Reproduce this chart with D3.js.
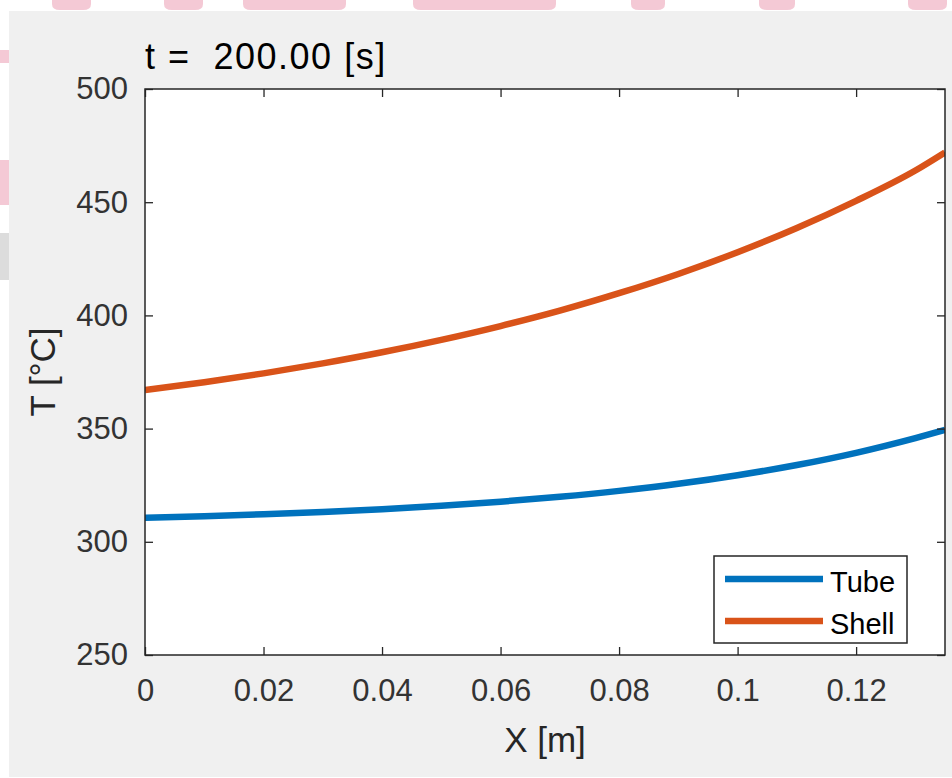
<!DOCTYPE html>
<html>
<head>
<meta charset="utf-8">
<script src="https://cdn.jsdelivr.net/npm/d3@7"></script>
<style>
  html, body { margin: 0; padding: 0; background: #ffffff; }
  svg { display: block; }
  text { font-family: "Liberation Sans", Arial, Helvetica, sans-serif; }
</style>
</head>
<body>
<svg id="chart" width="952" height="778"></svg>
<script>
// ---- data ----
const xPositions = [0, 0.01, 0.02, 0.03, 0.04, 0.05, 0.06, 0.07, 0.08, 0.09, 0.10, 0.11, 0.12, 0.13, 0.135];
const tubeTemps  = [310.6, 311.3, 312.2, 313.2, 314.4, 315.9, 317.7, 319.9, 322.5, 325.6, 329.4, 333.9, 339.3, 345.8, 349.4];
const shellTemps = [367.0, 370.5, 374.4, 378.8, 383.7, 389.2, 395.3, 402.1, 409.8, 418.3, 427.9, 438.6, 450.6, 464.0, 472.0];
const seriesNames = ["Tube", "Shell"];
const xTickValues = [0, 0.02, 0.04, 0.06, 0.08, 0.1, 0.12];
const xTickLabels = ["0", "0.02", "0.04", "0.06", "0.08", "0.1", "0.12"];
const yTickValues = [250, 300, 350, 400, 450, 500];
const yTickLabels = ["250", "300", "350", "400", "450", "500"];
const titleText = "t =  200.00 [s]";
const xLabelText = "X [m]";
const yLabelText = "T [°C]";

// ---- layout ----
const svg = d3.select("#chart");
const plot = { left: 145, right: 945, top: 89, bottom: 655 };
const colors = { Tube: "#0072BD", Shell: "#D95319" };
const axisColor = "#262626";

// background decoration (figure panel + faint watermark fragments)
svg.append("rect").attr("x", 9).attr("y", 11).attr("width", 943).attr("height", 766).attr("fill", "#f0f0f0");
const wm = svg.append("g").attr("fill", "#f4c9d5");
[[52, 39], [164, 39], [243, 103], [413, 143], [631, 34], [759, 36], [908, 39]].forEach(([x, w]) => {
  wm.append("path").attr("d", `M${x},0 H${x + w} V4 Q${x + w},10 ${x + w - 8},10 H${x + 8} Q${x},10 ${x},4 Z`);
});
wm.append("rect").attr("x", 0).attr("y", 50).attr("width", 9).attr("height", 13);
wm.append("rect").attr("x", 0).attr("y", 160).attr("width", 9).attr("height", 45);
svg.append("rect").attr("x", 0).attr("y", 233).attr("width", 9).attr("height", 47).attr("fill", "#dcdcdc");

// plot area
svg.append("rect")
  .attr("x", plot.left).attr("y", plot.top)
  .attr("width", plot.right - plot.left).attr("height", plot.bottom - plot.top)
  .attr("fill", "#ffffff");

const x = d3.scaleLinear().domain([0, 0.135]).range([plot.left, plot.right]);
const y = d3.scaleLinear().domain([250, 500]).range([plot.bottom, plot.top]);

// lines
const data = {
  Tube: xPositions.map((v, i) => [v, tubeTemps[i]]),
  Shell: xPositions.map((v, i) => [v, shellTemps[i]])
};
const line = d3.line().x(d => x(d[0])).y(d => y(d[1])).curve(d3.curveMonotoneX);
svg.append("clipPath").attr("id", "clip").append("rect")
  .attr("x", plot.left).attr("y", plot.top)
  .attr("width", plot.right - plot.left).attr("height", plot.bottom - plot.top);
seriesNames.forEach(name => {
  svg.append("path").datum(data[name])
    .attr("clip-path", "url(#clip)")
    .attr("d", line)
    .attr("fill", "none")
    .attr("stroke", colors[name])
    .attr("stroke-width", 6.5)
    .attr("stroke-linejoin", "round");
});

// axes (ticks inward, box on all sides)
const tickLen = 8;
const fmtX = d => xTickLabels[xTickValues.indexOf(d)];
const fmtY = d => yTickLabels[yTickValues.indexOf(d)];

const gx = svg.append("g").attr("transform", `translate(0,${plot.bottom})`)
  .call(d3.axisBottom(x).tickValues(xTickValues).tickFormat(fmtX).tickSizeInner(-tickLen).tickSizeOuter(0).tickPadding(24));
const gxTop = svg.append("g").attr("transform", `translate(0,${plot.top})`)
  .call(d3.axisTop(x).tickValues(xTickValues).tickFormat("").tickSizeInner(-tickLen).tickSizeOuter(0));
const gy = svg.append("g").attr("transform", `translate(${plot.left},0)`)
  .call(d3.axisLeft(y).tickValues(yTickValues).tickFormat(fmtY).tickSizeInner(-tickLen).tickSizeOuter(0).tickPadding(17));
const gyRight = svg.append("g").attr("transform", `translate(${plot.right},0)`)
  .call(d3.axisRight(y).tickValues(yTickValues).tickFormat("").tickSizeInner(-tickLen).tickSizeOuter(0));

[gx, gxTop, gy, gyRight].forEach(g => {
  g.select(".domain").remove();
  g.selectAll(".tick line").attr("stroke", axisColor).attr("stroke-width", 1.3);
  g.selectAll(".tick text").attr("fill", "#333333").style("font-size", "31px");
});
gx.selectAll(".tick text").attr("dy", "0.71em");

// box border
svg.append("rect")
  .attr("x", plot.left).attr("y", plot.top)
  .attr("width", plot.right - plot.left).attr("height", plot.bottom - plot.top)
  .attr("fill", "none").attr("stroke", axisColor).attr("stroke-width", 1.5);

// title & labels
svg.append("text").attr("x", plot.left).attr("y", 69)
  .attr("fill", "#000").style("font-size", "36px").style("letter-spacing", "1.5px")
  .attr("xml:space", "preserve").text(titleText);
svg.append("text").attr("x", (plot.left + plot.right) / 2).attr("y", 752)
  .attr("text-anchor", "middle").attr("fill", axisColor).style("font-size", "35px")
  .text(xLabelText);
svg.append("text")
  .attr("transform", `translate(55,${(plot.top + plot.bottom) / 2}) rotate(-90)`)
  .attr("text-anchor", "middle").attr("fill", axisColor).style("font-size", "35px")
  .text(yLabelText);

// legend
const lg = svg.append("g");
lg.append("rect").attr("x", 714).attr("y", 556).attr("width", 193).attr("height", 87)
  .attr("fill", "#ffffff").attr("stroke", axisColor).attr("stroke-width", 1.5);
seriesNames.forEach((name, i) => {
  const ly = 579 + i * 42;
  lg.append("line").attr("x1", 725).attr("x2", 823).attr("y1", ly).attr("y2", ly)
    .attr("stroke", colors[name]).attr("stroke-width", 6.5);
  lg.append("text").attr("x", 830).attr("y", ly + 13)
    .attr("fill", "#000").style("font-size", "29px").text(name);
});
</script>
</body>
</html>
